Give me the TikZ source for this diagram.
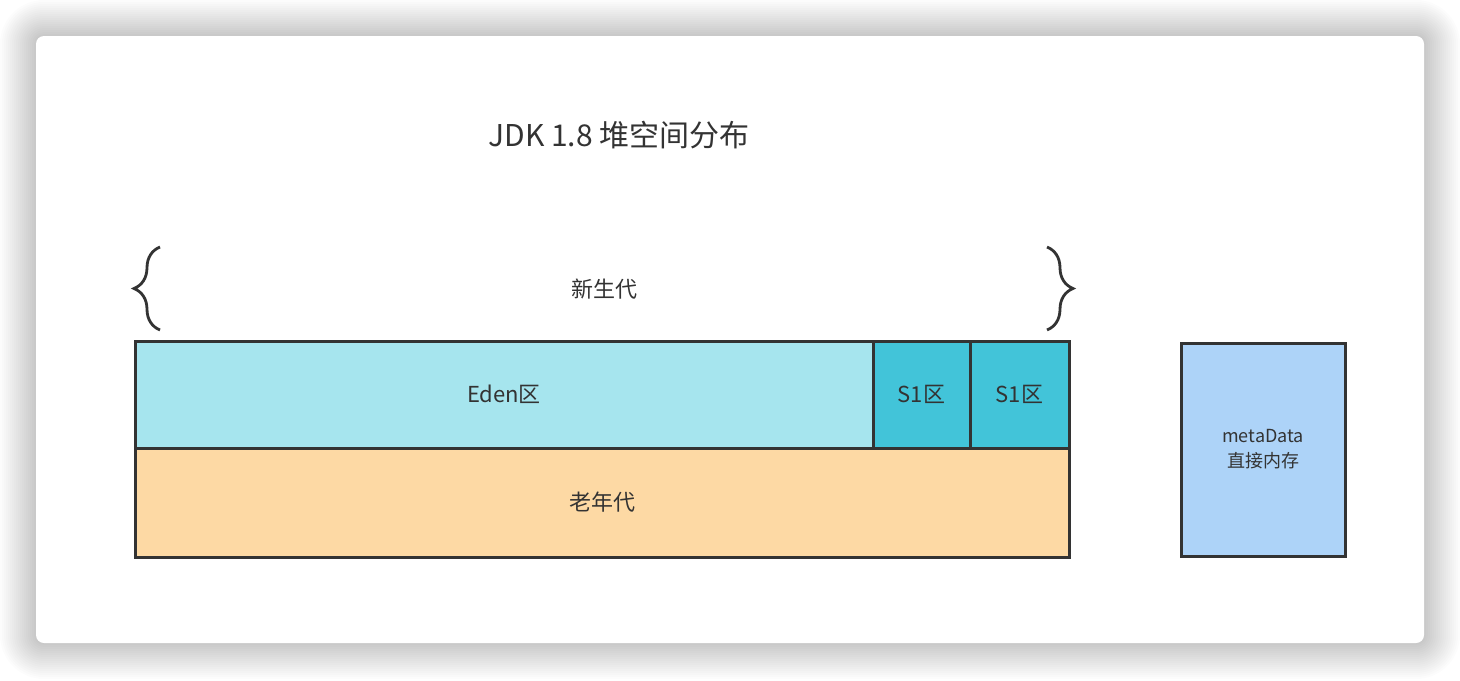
\documentclass[tikz,border=0pt]{standalone}
\usepackage{fontspec}
\setmainfont{Noto Sans CJK SC}
\usetikzlibrary{positioning,decorations.pathreplacing}
\definecolor{linec}{HTML}{333333}
\definecolor{edenc}{HTML}{A6E5EE}
\definecolor{survc}{HTML}{42C4D9}
\definecolor{oldc}{HTML}{FDD9A4}
\definecolor{metac}{HTML}{ADD3F8}
\tikzset{
  genbox/.style={draw=linec, line width=1.5pt, anchor=north west, inner sep=0pt, outer sep=0pt,
    text=linec, font=\fontsize{11}{13}\selectfont},
  gbrace/.style={decorate, decoration={brace, amplitude=13pt}, line width=1.4pt, draw=linec}
}
\begin{document}
\begin{tikzpicture}[x=0.5pt, y=-0.5pt]
  \useasboundingbox (0,0) rectangle (1460,680);
  \fill[white] (0,0) rectangle (1460,680);
  % card shadow
  \foreach \r in {1,...,18}
    \fill[black, opacity=0.011, rounded corners={4pt+\r pt}] (36-\r*2,36-\r*2) rectangle (1424+\r*2,643+\r*2);
  \fill[white, rounded corners=4pt] (36,36) rectangle (1424,643);
  % title
  \node[text=linec, font=\fontsize{15}{17}\selectfont] (title) at (619,135) {JDK 1.8 堆空间分布};
  % young generation
  \draw[gbrace] (160,330) -- (160,247);
  \draw[gbrace] (1047,247) -- (1047,330);
  \node[text=linec, font=\fontsize{11}{13}\selectfont] (young) at (604,289) {新生代};
  \node[genbox, fill=edenc, minimum width=369pt, minimum height=53.5pt] (eden) at (135,341) {Eden区};
  \node[genbox, fill=survc, minimum width=48.5pt, minimum height=53.5pt] (sone) at (eden.north east) {S1区};
  \node[genbox, fill=survc, minimum width=49.5pt, minimum height=53.5pt] (stwo) at (sone.north east) {S1区};
  % old generation
  \node[genbox, fill=oldc, minimum width=467pt, minimum height=54.5pt] (old) at (eden.south west) {老年代};
  % metaspace
  \node[genbox, fill=metac, minimum width=82pt, minimum height=106.5pt, align=center,
    font=\fontsize{9}{12.5}\selectfont] (meta) at (1181,343) {metaData\\直接内存};
\end{tikzpicture}
\end{document}
